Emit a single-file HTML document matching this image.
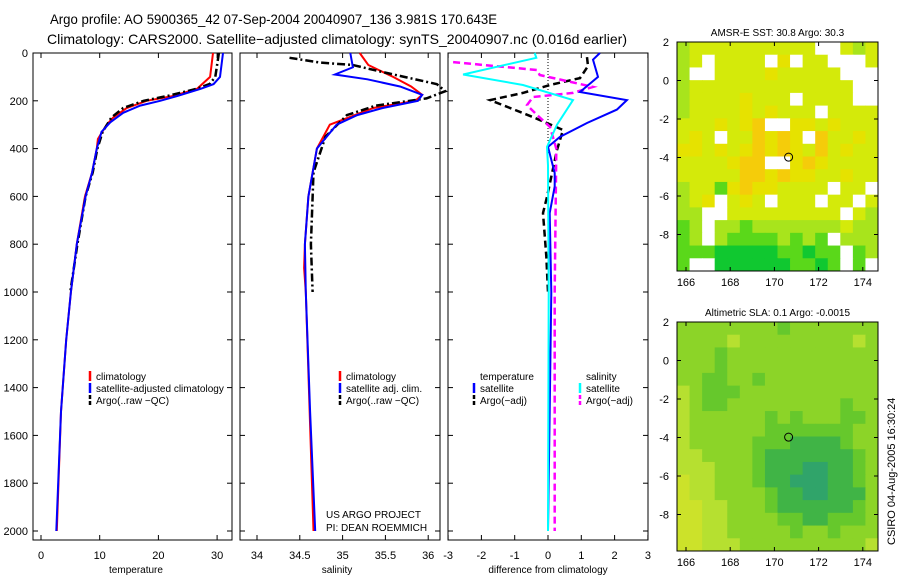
<!DOCTYPE html>
<html><head><meta charset="utf-8"><style>
body{margin:0;background:#fff;width:900px;height:580px;overflow:hidden;font-family:"Liberation Sans",sans-serif}
svg text{font-family:"Liberation Sans",sans-serif}
</style></head><body>
<svg id="s" width="900" height="580" xmlns="http://www.w3.org/2000/svg">
<text x="50" y="24" font-size="14" textLength="447" lengthAdjust="spacingAndGlyphs">Argo profile: AO 5900365_42 07-Sep-2004 20040907_136 3.981S 170.643E</text>
<text x="47" y="44" font-size="14" textLength="580" lengthAdjust="spacingAndGlyphs">Climatology: CARS2000. Satellite−adjusted climatology: synTS_20040907.nc (0.016d earlier)</text>
<text x="0" y="0" font-size="11" transform="translate(895,545) rotate(-90)">CSIRO 04-Aug-2005 16:30:24</text>
</svg>
<script>
// ---- data ----
const depthTicks=[0,200,400,600,800,1000,1200,1400,1600,1800,2000];
const tempTicks=[0,10,20,30];
const salTicks=[34,34.5,35,35.5,36];
const diffTicks=[-3,-2,-1,0,1,2,3];
const tClimD=[0,100,150,180,200,230,270,300,360,400,500,600,800,1000,1200,1500,2000];
const tClimV=[29.3,28.8,26.6,22.5,18,14.6,12.3,11.2,9.7,9.5,8.7,7.5,6.1,5.1,4.3,3.4,2.7];
const tSatD=[0,100,130,150,180,200,220,250,290,330,400,500,600,800,1000,1200,1500,2000];
const tSatV=[31,30.5,29.4,27.2,23.2,20.3,16.9,14,11.8,10.3,9.5,8.7,7.6,6.1,5.1,4.3,3.4,2.6];
const tArgoD=[0,100,130,150,180,200,230,270,330,400,500,600,800,1000];
const tArgoV=[30.3,29.7,28.7,26.5,21.5,17.5,14,12,10.5,9.6,8.8,7.6,6.2,5.0];
const sClimD=[0,50,100,140,175,200,230,300,400,600,800,900,1000,2000];
const sClimV=[35.2,35.3,35.59,35.8,35.93,35.85,35.36,34.85,34.7,34.6,34.56,34.55,34.57,34.66];
const sSatD=[0,60,90,110,140,175,200,230,260,300,400,600,800,1000,1500,2000];
const sSatV=[35.09,35.12,34.91,35.29,35.67,35.93,35.88,35.47,35.17,34.93,34.7,34.6,34.56,34.57,34.62,34.68];
const sArgoD=[20,40,50,80,130,160,190,220,260,350,500,800,1000];
const sArgoV=[34.38,34.74,35.12,35.47,36.1,36.2,35.98,35.39,35.05,34.8,34.66,34.63,34.65];
const dTsD=[0,28,100,163,197,237,293,351,393,502,558,670,1000,1500,2000];
const dTsV=[1.56,1.35,1.5,0.96,2.37,2.07,1.17,0.36,0,0.2,0.2,0.05,0.1,0.05,0];
const dSsD=[0,20,90,134,197,300,393,470,1000,2000];
const dSsV=[-0.4,-0.35,-2.55,-0.75,0.75,0.27,-0.03,0,0.02,0];
const dTaD=[17,55,105,134,167,197,268,322,406,602,670,850,1000];
const dTaV=[1.17,1.2,0.96,0.06,-0.75,-1.74,-0.45,0.45,0.27,-0.03,-0.15,-0.05,0];
const dSaD=[38,71,92,142,167,184,218,259,309,400,1000,2000];
const dSaV=[-2.85,-0.33,-0.25,1.35,0.75,-0.45,-0.63,-0.33,0.06,0.25,0.2,0.2];
const mapLonTicks=[166,168,170,172,174];
const mapLatTicks=[2,0,-2,-4,-6,-8];
const sstGrid=["lyyyyyyyyyy..yly","ly.yyyy.Y.yy...y","l..yyyyYyyyyy...","lyyyyyyyyyyyyy..","lyyyyYyyy.yyyy..","lyyyyYyYyyy.yyyy","yyyYyYo..YYyYyyy","yYy.yyoYoY.oyyYy","YYyYyYoYoYyoyYyy","yyyyYoo..YoYyyyy","yyyyyooYoYYyyYyy","lyyGYoYYyyyy.yy.","lyY.yYy.yyy.yy.y","ll..yyyyyyyyy.yl","Gl.llGlllllllyll","Gl.lGGGGlGlG.lll","GGGgggggGGgGG.Gl","G..ggggggGGgG.G."];
const slaGrid=["bbbbbbbbcbbbbbbb","bbbbabbbbbbbbbab","bbbcbbbbbbbbbbbb","bbbcbbbbbbbbbbbb","bbccbbcbbbbbbbbb","abcccbbbbbbbbbbb","abccbbbbbbbbbcbb","abbbbbbcbcbbbccb","abbbbbbcccccccbb","abbbbbcccddddcbb","aabbbbcdddddddcb","aaabbbcdddeeddcb","yaabbbcddeeeddcb","yaabbbbcddeedddb","yyaabbbcddddddcb","yyaabbbbccddcccb","yyaabbbbbcbbcbbb","yyaaabbbbbbbbbba"];
const argoLon=170.643, argoLat=-3.981;
// ---- drawing ----
const S=document.getElementById('s'),NS="http://www.w3.org/2000/svg";
function mk(t,a,p){const e=document.createElementNS(NS,t);for(const k in a)e.setAttribute(k,a[k]);(p||S).appendChild(e);return e;}
const yD=d=>53+d*0.239;
const panels=[{x0:33,x1:232,f:v=>41+v*5.87,ticks:tempTicks,title:"temperature",tx:136,name:"temperature"},
{x0:240,x1:440,f:v=>257+(v-34)*85.6,ticks:salTicks,title:"salinity",tx:337,name:"salinity"},
{x0:448,x1:648,f:v=>548+v*33.3,ticks:diffTicks,title:"difference from climatology",tx:548,name:"difference"}];
panels.forEach(p=>{
 const r=mk('rect',{x:p.x0,y:53,width:p.x1-p.x0,height:487,fill:'none',stroke:'#000','stroke-width':1});
 
 
 depthTicks.forEach(d=>{mk('line',{x1:p.x0,x2:p.x0+5,y1:yD(d),y2:yD(d),stroke:'#000'});mk('line',{x1:p.x1,x2:p.x1-5,y1:yD(d),y2:yD(d),stroke:'#000'});});
 p.ticks.forEach(v=>{const x=p.f(v);mk('line',{x1:x,x2:x,y1:540,y2:535,stroke:'#000'});mk('line',{x1:x,x2:x,y1:53,y2:58,stroke:'#000'});
  const t=mk('text',{x:x,y:559,'font-size':11,'text-anchor':'middle'});t.textContent=v;
  
  });
 const tt=mk('text',{x:p.tx,y:573,'font-size':10,'text-anchor':'middle'});tt.textContent=p.title;
 
 
});
depthTicks.forEach(d=>{const t=mk('text',{x:28,y:yD(d)+4,'font-size':11,'text-anchor':'end'});t.textContent=d;
 
 });
mk('line',{x1:548,x2:548,y1:53,y2:yD(420),stroke:'#000','stroke-dasharray':'1,2'});
function line(D,V,f,col,dash,w,name){
 const pts=D.map((d,i)=>f(V[i]).toFixed(1)+','+yD(d).toFixed(1)).join(' ');
 const e=mk('polyline',{points:pts,fill:'none',stroke:col,'stroke-width':w||2,'stroke-dasharray':dash||'none'});
 
 
}
line(tClimD,tClimV,panels[0].f,'#f00',null,2,'temp-climatology-line');
line(tArgoD,tArgoV,panels[0].f,'#000','8,3,2,3',2.5,'temp-argo-line');
line(tSatD,tSatV,panels[0].f,'#00f',null,2,'temp-satellite-line');
line(sClimD,sClimV,panels[1].f,'#f00',null,2,'sal-climatology-line');
line(sArgoD,sArgoV,panels[1].f,'#000','8,3,2,3',2.5,'sal-argo-line');
line(sSatD,sSatV,panels[1].f,'#00f',null,2,'sal-satellite-line');
line(dTaD,dTaV,panels[2].f,'#000','7,4',2.5,'diff-temp-argo-line');
line(dSaD,dSaV,panels[2].f,'#f0f','7,4',2.5,'diff-sal-argo-line');
line(dTsD,dTsV,panels[2].f,'#00f',null,2,'diff-temp-satellite-line');
line(dSsD,dSsV,panels[2].f,'#0ff',null,2,'diff-sal-satellite-line');
function leg(x,y,col,dash,txt,name){
 if(col){mk('line',{x1:x,x2:x,y1:y-9,y2:y+1,stroke:col,'stroke-width':2.5,'stroke-dasharray':dash||'none'});}
 const t=mk('text',{x:x+6,y:y,'font-size':10});t.textContent=txt;
 
 
}
leg(90,380,'#f00',null,'climatology','legend-climatology');
leg(90,392,'#00f',null,'satellite-adjusted climatology','legend-satellite');
leg(90,404,'#000','4,2','Argo(..raw −QC)','legend-argo');
leg(340,380,'#f00',null,'climatology','legend-climatology-2');
leg(340,392,'#00f',null,'satellite adj. clim.','legend-satellite-2');
leg(340,404,'#000','4,2','Argo(..raw −QC)','legend-argo-2');
leg(474,380,null,null,'temperature','legend-temp-header');
leg(474,392,'#00f',null,'satellite','legend-temp-satellite');
leg(474,404,'#000','4,2','Argo(−adj)','legend-temp-argo');
leg(580,380,null,null,'salinity','legend-sal-header');
leg(580,392,'#0ff',null,'satellite','legend-sal-satellite');
leg(580,404,'#f0f','4,2','Argo(−adj)','legend-sal-argo');
[["US ARGO PROJECT",518],["PI: DEAN ROEMMICH",531]].forEach(a=>{const t=mk('text',{x:326,y:a[1],'font-size':10});t.textContent=a[0];
 
 });
// maps
const colSST={l:'#a8e41c',y:'#d4ea0a',Y:'#e6e200',o:'#f5cc0a',G:'#5ad81a',g:'#10c830','.':'#fff'};
const colSLA={a:'#b6e030',b:'#8cd428',c:'#66c82c',d:'#40b446',e:'#30a46a',y:'#cce22a'};
function map(y0,grid,cols,title,name){
 const x0=677,w=201,h=229,cw=w/16,ch=h/18;
 const lx=v=>686+(v-166)*22.1, ly=v=>y0+(2-v)*19.25;
 grid.forEach((row,r)=>{for(let c=0;c<16;c++){mk('rect',{x:x0+c*cw,y:y0+r*ch,width:cw+0.5,height:ch+0.5,fill:cols[row[c]]});}});
 const fr=mk('rect',{x:x0,y:y0,width:w,height:h,fill:'none',stroke:'#000'});
 
 
 mapLonTicks.forEach(v=>{const x=lx(v);mk('line',{x1:x,x2:x,y1:y0+h,y2:y0+h-4,stroke:'#000'});mk('line',{x1:x,x2:x,y1:y0,y2:y0+4,stroke:'#000'});
  const t=mk('text',{x:x,y:y0+h+15,'font-size':11,'text-anchor':'middle'});t.textContent=v;
  
  });
 mapLatTicks.forEach(v=>{const y=ly(v);mk('line',{x1:x0,x2:x0+4,y1:y,y2:y,stroke:'#000'});mk('line',{x1:x0+w,x2:x0+w-4,y1:y,y2:y,stroke:'#000'});
  const t=mk('text',{x:x0-8,y:y+4,'font-size':11,'text-anchor':'end'});t.textContent=v;
  
  });
 const c=mk('circle',{cx:lx(argoLon),cy:ly(argoLat),r:4,fill:'none',stroke:'#000'});
 
 
 const t=mk('text',{x:x0+w/2,y:y0-6,'font-size':10,'text-anchor':'middle'});t.textContent=title;
 
 
}
map(42,sstGrid,colSST,"AMSR-E SST: 30.8 Argo: 30.3","sst");
map(322,slaGrid,colSLA,"Altimetric SLA: 0.1 Argo: -0.0015","sla");
</script>
</body></html>
